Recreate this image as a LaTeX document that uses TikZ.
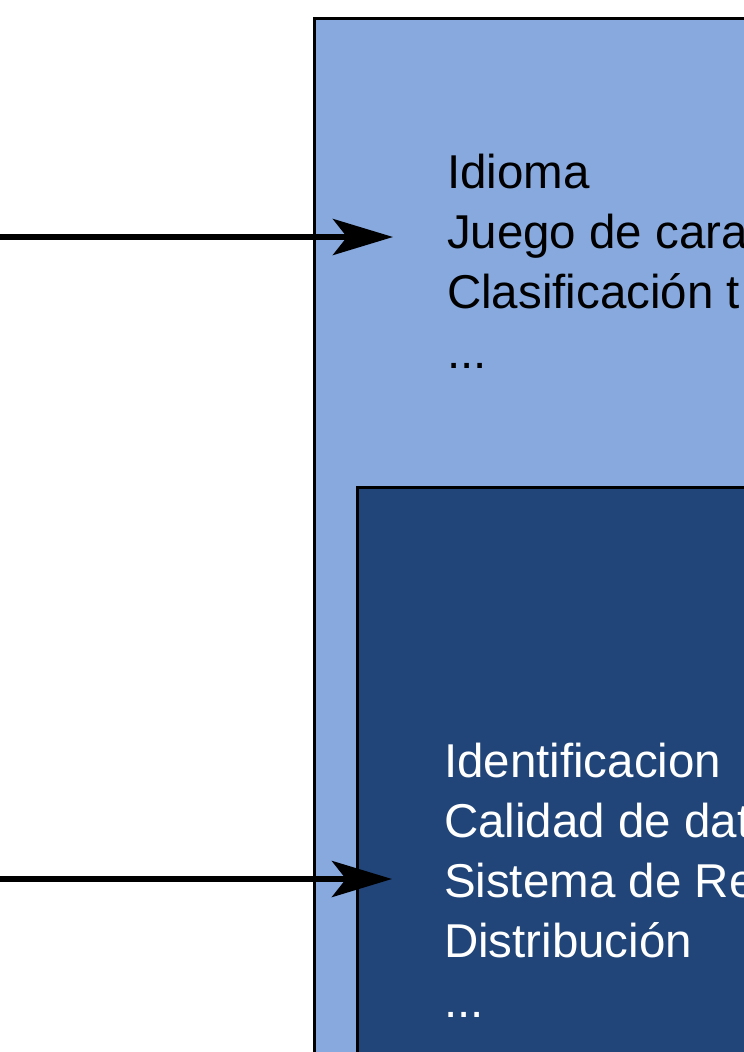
\documentclass[tikz,border=0pt]{standalone}
\usepackage{fontspec}
\setmainfont{Liberation Sans}
\usetikzlibrary{arrows.meta}
\definecolor{lightbox}{HTML}{87A9DE}
\definecolor{darkbox}{HTML}{214579}
\tikzset{
  box/.style={draw=black, line width=3.5pt, inner sep=0pt, outer sep=0pt, anchor=north west,
    minimum width=700pt, minimum height=1200pt},
  listtext/.style={inner sep=0pt, outer sep=0pt, anchor=base west, align=left,
    font=\fontsize{47.5}{60}\selectfont},
  arr/.style={line width=6pt, -{Stealth[length=60pt, width=36pt, inset=14pt]}}
}
\begin{document}
\begin{tikzpicture}[x=1pt,y=-1pt]
\useasboundingbox (0,0) rectangle (744,1052);
\clip (0,0) rectangle (744,1052);
\fill[white] (0,0) rectangle (744,1052);
\node[box, fill=lightbox] (outer) at (314.5,18.5) {};
\node[box, fill=darkbox] (inner) at (357.5,487.5) {};
\node[listtext, text=black] (t1) at (447,368) {Idioma\\Juego de cara\\Clasificación t\\...};
\node[listtext, text=white] (t2) at (444,1017) {Identificacion\\Calidad de dat\\Sistema de Re\\Distribución\\...};
\coordinate (s1) at (-10,237);
\coordinate (e1) at (393,237);
\coordinate (s2) at (-10,879);
\coordinate (e2) at (392,879);
\draw[arr] (s1) -- (e1);
\draw[arr] (s2) -- (e2);
\end{tikzpicture}
\end{document}
